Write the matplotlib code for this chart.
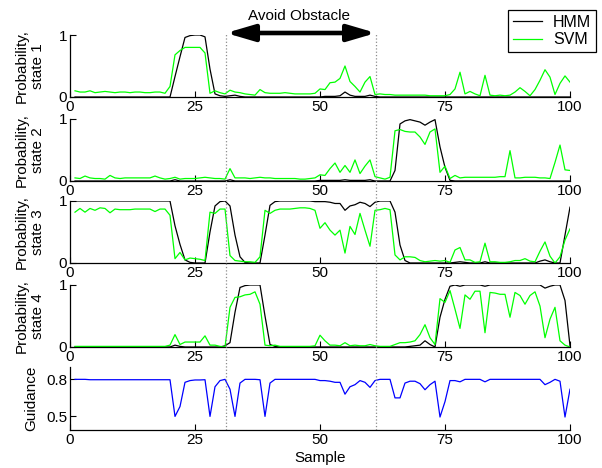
import matplotlib.pyplot as plt
import matplotlib.transforms as mtransforms
import numpy as np

plt.rcParams['font.family'] = ['Liberation Sans', 'DejaVu Sans']
plt.rcParams['font.size'] = 11

# ---- data (samples 1..100) ----
sample = np.arange(1, 101)

hmm_s1 = [0, 0, 0, 0, 0, 0, 0, 0, 0, 0,
          0, 0, 0, 0, 0, 0, 0, 0, 0, 0,
          0.33, 0.65, 0.96, 0.99, 1.0, 1.0, 0.97, 0.45, 0.05, 0.02,
          0.01, 0.02, 0.03, 0.01, 0, 0, 0, 0, 0, 0,
          0, 0, 0, 0, 0, 0, 0, 0, 0, 0,
          0.01, 0.01, 0.01, 0.02, 0.08, 0.03, 0.01, 0.01, 0.01, 0.03,
          0.01, 0, 0, 0, 0, 0, 0, 0, 0, 0,
          0, 0, 0, 0, 0, 0, 0, 0, 0, 0,
          0, 0, 0, 0, 0, 0, 0, 0, 0, 0,
          0, 0, 0, 0, 0, 0, 0, 0, 0, 0]
svm_s1 = [0.10, 0.08, 0.08, 0.10, 0.07, 0.08, 0.09, 0.08, 0.07, 0.08,
          0.08, 0.07, 0.08, 0.08, 0.07, 0.07, 0.08, 0.08, 0.06, 0.17,
          0.68, 0.75, 0.80, 0.80, 0.80, 0.80, 0.71, 0.06, 0.10, 0.07,
          0.05, 0.11, 0.08, 0.07, 0.05, 0.04, 0.03, 0.12, 0.07, 0.06,
          0.06, 0.06, 0.07, 0.06, 0.05, 0.05, 0.05, 0.05, 0.06, 0.13,
          0.12, 0.23, 0.24, 0.30, 0.50, 0.25, 0.17, 0.08, 0.24, 0.33,
          0.04, 0.05, 0.04, 0.04, 0.03, 0.03, 0.03, 0.03, 0.03, 0.03,
          0.03, 0.02, 0.02, 0.02, 0.02, 0.04, 0.13, 0.40, 0.05, 0.09,
          0.05, 0.02, 0.35, 0.03, 0.02, 0.03, 0.02, 0.03, 0.08, 0.15,
          0.09, 0.02, 0.12, 0.27, 0.44, 0.32, 0.04, 0.22, 0.34, 0.24]

hmm_s2 = [0, 0, 0, 0, 0, 0, 0, 0, 0, 0,
          0, 0, 0, 0, 0, 0, 0, 0, 0, 0,
          0.02, 0, 0, 0, 0, 0, 0, 0, 0, 0,
          0, 0.02, 0, 0, 0, 0, 0, 0, 0, 0,
          0, 0, 0, 0, 0, 0, 0, 0, 0, 0.01,
          0.01, 0.01, 0.01, 0.01, 0.02, 0.01, 0.01, 0.01, 0.01, 0.02,
          0, 0, 0, 0, 0.17, 0.92, 0.97, 0.99, 0.97, 0.95,
          0.90, 0.95, 0.99, 0.55, 0.22, 0.01, 0, 0, 0, 0,
          0, 0, 0, 0, 0, 0, 0, 0, 0, 0,
          0, 0, 0, 0, 0, 0, 0, 0, 0, 0]
svm_s2 = [0.05, 0.04, 0.08, 0.05, 0.04, 0.04, 0.03, 0.09, 0.05, 0.04,
          0.05, 0.05, 0.05, 0.05, 0.05, 0.05, 0.08, 0.05, 0.03, 0.04,
          0.06, 0.03, 0.04, 0.04, 0.04, 0.05, 0.06, 0.05, 0.04, 0.04,
          0.03, 0.20, 0.05, 0.05, 0.05, 0.04, 0.05, 0.06, 0.05, 0.05,
          0.04, 0.04, 0.04, 0.04, 0.04, 0.03, 0.03, 0.04, 0.05, 0.10,
          0.09, 0.20, 0.29, 0.14, 0.25, 0.14, 0.34, 0.12, 0.24, 0.34,
          0.07, 0.05, 0.03, 0.06, 0.81, 0.83, 0.80, 0.79, 0.79, 0.71,
          0.59, 0.79, 0.84, 0.14, 0.24, 0.04, 0.09, 0.05, 0.06, 0.06,
          0.06, 0.06, 0.06, 0.06, 0.06, 0.07, 0.07, 0.49, 0.05, 0.05,
          0.06, 0.06, 0.06, 0.05, 0.05, 0.04, 0.30, 0.58, 0.18, 0.17]

hmm_s3 = [1, 1, 1, 1, 1, 1, 1, 1, 1, 1,
          1, 1, 1, 1, 1, 1, 1, 1, 1, 1,
          0.60, 0.30, 0.05, 0.01, 0, 0, 0, 0.50, 0.92, 0.99,
          1.0, 0.92, 0.45, 0.10, 0.01, 0, 0, 0, 0.45, 0.93,
          0.99, 1, 1, 1, 1, 1, 1, 1, 0.99, 0.99,
          0.99, 0.98, 0.96, 0.96, 0.85, 0.92, 0.94, 0.98, 0.96, 0.91,
          0.98, 1, 1, 1, 0.82, 0.29, 0.04, 0, 0, 0,
          0, 0, 0, 0, 0, 0, 0.01, 0.02, 0.01, 0,
          0, 0, 0.02, 0, 0, 0, 0, 0, 0, 0,
          0, 0, 0, 0.03, 0.05, 0.02, 0, 0, 0.45, 0.90]
svm_s3 = [0.82, 0.88, 0.82, 0.88, 0.85, 0.89, 0.88, 0.81, 0.87, 0.86,
          0.86, 0.86, 0.87, 0.87, 0.87, 0.87, 0.83, 0.87, 0.87, 0.77,
          0.07, 0.17, 0.05, 0.08, 0.07, 0.06, 0.04, 0.82, 0.80, 0.87,
          0.87, 0.12, 0.04, 0.03, 0.02, 0.02, 0.01, 0.10, 0.85, 0.80,
          0.85, 0.87, 0.87, 0.87, 0.88, 0.89, 0.89, 0.88, 0.85, 0.56,
          0.65, 0.53, 0.45, 0.53, 0.16, 0.59, 0.46, 0.80, 0.53, 0.27,
          0.85, 0.86, 0.88, 0.86, 0.13, 0.05, 0.10, 0.10, 0.09, 0.04,
          0.02, 0.03, 0.04, 0.03, 0.04, 0.01, 0.21, 0.25, 0.05, 0.05,
          0.01, 0.02, 0.32, 0.02, 0.02, 0.01, 0.01, 0.02, 0.04, 0.04,
          0.07, 0.03, 0.02, 0.19, 0.34, 0.11, 0.00, 0.10, 0.37, 0.55]

hmm_s4 = [0, 0, 0, 0, 0, 0, 0, 0, 0, 0,
          0, 0, 0, 0, 0, 0, 0, 0, 0, 0,
          0.03, 0.01, 0, 0, 0, 0, 0, 0, 0, 0,
          0.02, 0.07, 0.56, 0.96, 0.99, 1, 1, 1, 0.50, 0.04,
          0.01, 0, 0, 0, 0, 0, 0, 0, 0, 0,
          0, 0, 0, 0, 0, 0, 0, 0, 0, 0,
          0, 0, 0, 0, 0, 0, 0, 0.01, 0.02, 0.03,
          0.10, 0.04, 0, 0.48, 0.77, 0.98, 1, 0.98, 1, 1,
          1, 1, 0.98, 1, 1, 1, 1, 1, 1, 1,
          1, 1, 1, 1, 0.95, 0.98, 1, 1, 0.75, 0.02]
svm_s4 = [0.01, 0.01, 0.01, 0.01, 0.01, 0.01, 0.01, 0.01, 0.01, 0.01,
          0.01, 0.01, 0.01, 0.01, 0.01, 0.01, 0.01, 0.01, 0.01, 0.03,
          0.20, 0.04, 0.08, 0.08, 0.08, 0.08, 0.18, 0.03, 0.03, 0.01,
          0.00, 0.64, 0.80, 0.81, 0.84, 0.85, 0.89, 0.69, 0.03, 0.02,
          0.03, 0.01, 0.01, 0.01, 0.01, 0.01, 0.01, 0.01, 0.02, 0.19,
          0.10, 0.03, 0.03, 0.02, 0.07, 0.02, 0.03, 0.02, 0.02, 0.04,
          0.02, 0.01, 0.01, 0.01, 0.04, 0.07, 0.07, 0.08, 0.10, 0.20,
          0.36, 0.15, 0.04, 0.78, 0.72, 0.91, 0.61, 0.30, 0.84, 0.77,
          0.90, 0.90, 0.23, 0.88, 0.87, 0.85, 0.85, 0.48, 0.88, 0.83,
          0.69, 0.83, 0.89, 0.66, 0.15, 0.45, 0.64, 0.10, 0.03, 0.00]

guidance = [0.8, 0.8, 0.8, 0.797, 0.797, 0.797, 0.797, 0.797, 0.797, 0.797,
            0.797, 0.797, 0.797, 0.797, 0.797, 0.797, 0.797, 0.797, 0.797, 0.797,
            0.5, 0.58, 0.776, 0.79, 0.795, 0.795, 0.797, 0.5, 0.74, 0.79,
            0.8, 0.72, 0.5, 0.77, 0.8, 0.8, 0.8, 0.797, 0.5, 0.77,
            0.8, 0.8, 0.8, 0.8, 0.8, 0.8, 0.8, 0.8, 0.8, 0.79,
            0.79, 0.785, 0.776, 0.776, 0.68, 0.74, 0.757, 0.79, 0.776, 0.735,
            0.79, 0.8, 0.8, 0.8, 0.65, 0.65, 0.77, 0.785, 0.785, 0.765,
            0.716, 0.757, 0.785, 0.495, 0.62, 0.79, 0.79, 0.78, 0.8, 0.8,
            0.8, 0.8, 0.78, 0.8, 0.8, 0.8, 0.8, 0.8, 0.8, 0.8,
            0.8, 0.8, 0.8, 0.8, 0.757, 0.776, 0.8, 0.785, 0.495, 0.72]

hmm_states = [hmm_s1, hmm_s2, hmm_s3, hmm_s4]
svm_states = [svm_s1, svm_s2, svm_s3, svm_s4]

obstacle_start = 31.2
obstacle_end = 61.2

# ---- layout in pixels of the 602x468 picture ----
W, H = 602.0, 468.0
fig = plt.figure(figsize=(W / 100, H / 100), dpi=100)

left = 70 / W
width = 500 / W


def style_axis(ax):
    ax.spines['top'].set_visible(False)
    ax.spines['right'].set_visible(False)
    for s in ['left', 'bottom']:
        ax.spines[s].set_linewidth(0.9)
    ax.set_xlim(0, 100)
    ax.set_xticks([0, 25, 50, 75, 100])
    ax.tick_params(direction='in', length=4, width=0.8, pad=2)


panel_tops = [35, 119, 201, 285]
for i, top in enumerate(panel_tops):
    ax = fig.add_axes([left, 1 - (top + 62) / H, width, 62 / H])
    style_axis(ax)
    l1, = ax.plot(sample, hmm_states[i], color='black', lw=0.9)
    l2, = ax.plot(sample, svm_states[i], color='#00ff00', lw=0.9)
    ax.set_ylim(0, 1)
    ax.set_yticks([0, 1])
    ax.set_ylabel('Probability,\nstate %d' % (i + 1))
    ax.yaxis.set_label_coords(-0.05, 0.5)
    if i == 0:
        handles = [l1, l2]

axg = fig.add_axes([left, 1 - 430 / H, width, 63 / H])
style_axis(axg)
axg.plot(sample, guidance, color='#0000ff', lw=0.9)
axg.set_ylim(0.39, 0.9)
axg.set_yticks([0.5, 0.8])
axg.set_ylabel('Guidance')
axg.yaxis.set_label_coords(-0.064, 0.5)
axg.set_xlabel('Sample', labelpad=3)

# obstacle markers
trans = mtransforms.blended_transform_factory(axg.transData, fig.transFigure)
for xv in [obstacle_start, obstacle_end]:
    axg.plot([xv, xv], [1 - 430 / H, 1 - 33 / H], transform=trans, clip_on=False,
             color='0.55', ls=':', lw=0.9)

arrow_y = 1 - 33 / H
axg.annotate('', xy=(obstacle_end, arrow_y), xytext=(obstacle_start, arrow_y),
             xycoords=trans, textcoords=trans,
             arrowprops=dict(arrowstyle='<|-|>,head_length=0.85,head_width=0.25',
                             mutation_scale=20, lw=3.3, color='black',
                             shrinkA=0, shrinkB=0))
fig.text(299 / W, 1 - 16 / H, 'Avoid Obstacle', ha='center', va='center')

leg = fig.legend(handles, ['HMM', 'SVM'], loc='upper right',
                 bbox_to_anchor=(596 / W, 1 - 10 / H), frameon=True,
                 fancybox=False, edgecolor='black', framealpha=1,
                 borderpad=0.3, handlelength=1.8, handletextpad=0.7,
                 labelspacing=0.15, borderaxespad=0, fontsize=11.5)
leg.get_frame().set_linewidth(0.9)

fig.savefig('out.png', dpi=100)
